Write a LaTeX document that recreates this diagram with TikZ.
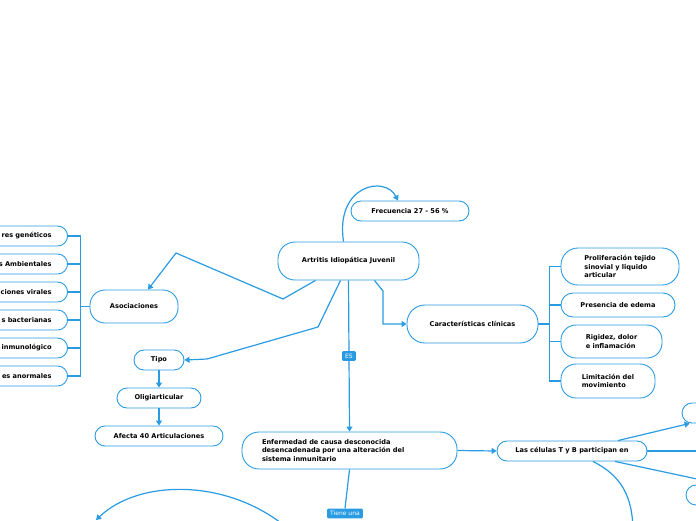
\documentclass[tikz,border=0pt]{standalone}
\usepackage{fontspec}
\setmainfont{DejaVu Sans}
\usepackage{tikz}
\usetikzlibrary{arrows.meta}
\definecolor{mapblue}{RGB}{41,155,226}

\begin{document}
\begin{tikzpicture}[x=1pt,y=1pt,yscale=-1,xscale=1,
  topic/.style={draw=mapblue, line width=0.9pt, fill=white, rounded corners=10pt,
    font=\fontsize{6.6}{8.5}\selectfont\bfseries, inner sep=0pt, minimum height=20pt},
  conn/.style={draw=mapblue, line width=1.2pt},
  arr/.style={conn, -{Triangle[length=5pt,width=6pt]}},
  tag/.style={fill=mapblue, text=white, font=\fontsize{6}{7}\selectfont,
    inner xsep=3pt, inner ysep=2.5pt, rounded corners=1pt}]
\useasboundingbox (0,0) rectangle (696,520);
\clip (0,0) rectangle (696,520);

% Main topic
\node[topic, minimum width=141pt, minimum height=38pt, rounded corners=17pt] (art) at (348.5,261) {Artritis Idiopática Juvenil};
\node[topic, minimum width=118pt] (frec) at (410,211) {Frecuencia 27 - 56 \%};

% Left branch
\node[topic, minimum width=88pt, minimum height=33pt, rounded corners=15pt] (asoc) at (134,306.5) {Asociaciones};
\foreach \y/\t/\nm in {236/res genéticos/la1, 264/s Ambientales/la2, 292/ciones virales/la3,
    320/s bacterianas/la4, 348/inmunológico/la5, 376/es anormales/la6}
  \node[topic, anchor=east, text width=80pt, align=right, inner xsep=16pt] (\nm) at (68,\y) {\t};

\node[topic, minimum width=50pt] (tipo) at (159,360) {Tipo};
\node[topic, minimum width=84pt] (olig) at (159,398) {Oligiarticular};
\node[topic, minimum width=128pt] (afec) at (159,436) {Afecta 40 Articulaciones};

% Centre
\node[topic, text width=175pt, inner xsep=20pt, minimum height=37pt, align=left, rounded corners=17pt] (enf) at (349.5,450.5)
  {Enfermedad de causa desconocida\\desencadenada por una alteración del\\sistema inmunitario};

% Right branch
\node[topic, minimum width=131pt, minimum height=38pt, rounded corners=18pt] (car) at (472.5,324) {Características clínicas};
\node[topic, minimum width=118pt, minimum height=37pt, align=left, rounded corners=17pt] (car1) at (620,266.5) {Proliferación tejido\\sinovial y liquido\\articular};
\node[topic, minimum width=114pt, minimum height=24pt, rounded corners=12pt] (car2) at (618,305) {Presencia de edema};
\node[topic, minimum width=101pt, minimum height=33pt, align=left, rounded corners=15pt] (car3) at (611.5,341.5) {Rigidez, dolor\\e inflamación};
\node[topic, minimum width=94pt, minimum height=34pt, align=left, rounded corners=15pt] (car4) at (608,381) {Limitación del\\movimiento};

\node[topic, minimum width=150pt] (cel) at (572,451) {Las células T y B participan en};
\node[topic, minimum width=78pt] (cel2) at (721,413) {};
\node[topic, minimum width=74pt] (cel4) at (723,495) {};
\coordinate (celR) at (710,451);

\node[tag] (tiene) at (345,513.5) {Tiene una};
\coordinate (arcA) at (292,532);
\coordinate (arcB) at (96,520);
\coordinate (celB) at (633,532);

%Curve Lines
\draw[arr] ([xshift=-5pt]art.north) .. controls (335,185) and (385,175) .. ([xshift=-12pt]frec.north);
%Straight Lines
\draw[arr] ([xshift=-33pt]art.south) -- (283,299) -- (176,253) -- ([xshift=14pt]asoc.north);
\draw[arr] ([xshift=-8pt]art.south) -- (318,327) -- (207,359) -- (tipo.east);
\draw[arr] ([xshift=26pt]art.south) -- (383,291) |- (car.west);
\draw[arr] (art.south) -- node[tag] {ES} (enf.north);
\draw[arr] (tipo.south) -- (olig.north);
\draw[arr] (olig.south) -- (afec.north);

% Left bus
\draw[conn] (asoc.west) -- ++(-9pt,0) coordinate (busL);
\draw[conn] (busL |- la1.east) -- (busL |- la6.east);
\foreach \nm in {la1,la2,la3,la4,la5,la6}
  \draw[conn] (busL |- \nm.east) -- (\nm.east);

% Right bus
\draw[conn] (car.east) -- ++(11pt,0) coordinate (busR);
\draw[conn] (busR |- car1.west) -- (busR |- car4.west);
\foreach \nm in {car1,car2,car3,car4}
  \draw[conn] (busR |- \nm.west) -- (\nm.west);

\draw[conn] (enf.south) -- (tiene.north);
\draw[arr] (enf.east) -- (cel.west);
\draw[arr] ([xshift=46pt]cel.north) -- ([xshift=8pt]cel2.south west);
\draw[conn] (cel.east) -- (celR);
\draw[conn] ([xshift=43pt]cel.south) -- (cel4.north);
%Curve Lines
\draw[conn] ([xshift=21pt]cel.south) .. controls (620,475) and (633,495) .. (celB);
\draw[arr] (arcA) .. controls (232,478) and (140,478) .. (arcB);
\end{tikzpicture}
\end{document}
